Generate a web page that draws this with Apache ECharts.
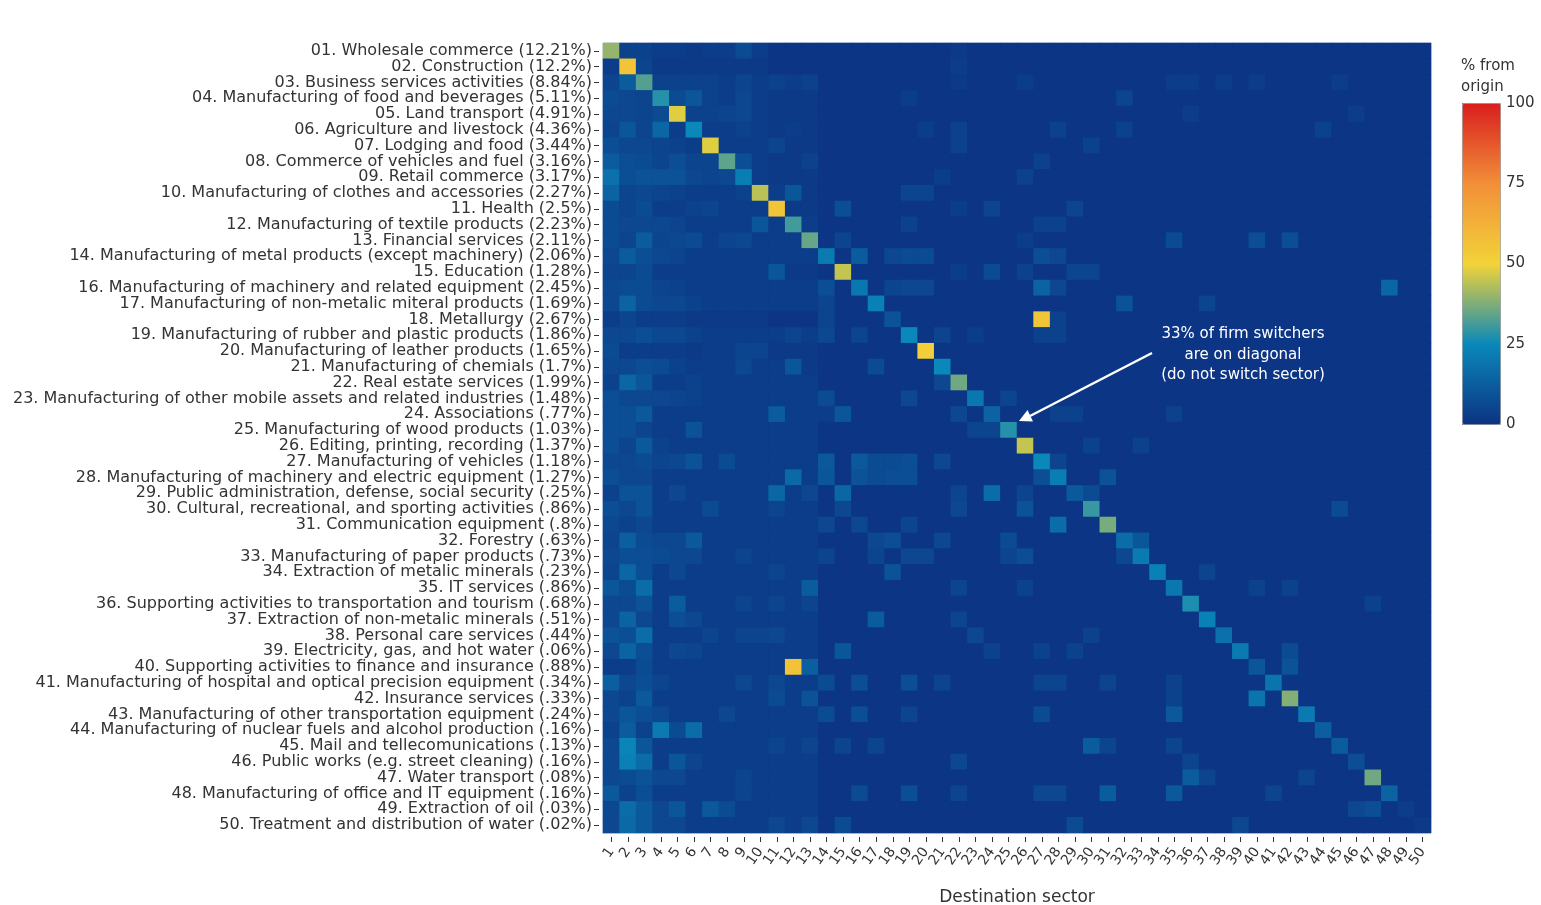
<!DOCTYPE html>
<html>
<head>
<meta charset="utf-8">
<title>Firm switchers by sector</title>
<script src="https://cdn.jsdelivr.net/npm/echarts@6/dist/echarts.min.js"></script>
<style>
  html, body { margin: 0; padding: 0; background: #fff; }
  #chart { width: 1541px; height: 905px; }
</style>
</head>
<body>
<div id="chart"></div>
<script>
// origin sectors (rows, top to bottom)
var originSectors = [
  '01. Wholesale commerce (12.21%)',
  '02. Construction (12.2%)',
  '03. Business services activities (8.84%)',
  '04. Manufacturing of food and beverages (5.11%)',
  '05. Land transport (4.91%)',
  '06. Agriculture and livestock (4.36%)',
  '07. Lodging and food (3.44%)',
  '08. Commerce of vehicles and fuel (3.16%)',
  '09. Retail commerce (3.17%)',
  '10. Manufacturing of clothes and accessories (2.27%)',
  '11. Health (2.5%)',
  '12. Manufacturing of textile products (2.23%)',
  '13. Financial services (2.11%)',
  '14. Manufacturing of metal products (except machinery) (2.06%)',
  '15. Education (1.28%)',
  '16. Manufacturing of machinery and related equipment (2.45%)',
  '17. Manufacturing of non-metalic miteral products (1.69%)',
  '18. Metallurgy (2.67%)',
  '19. Manufacturing of rubber and plastic products (1.86%)',
  '20. Manufacturing of leather products (1.65%)',
  '21. Manufacturing of chemials (1.7%)',
  '22. Real estate services (1.99%)',
  '23. Manufacturing of other mobile assets and related industries (1.48%)',
  '24. Associations (.77%)',
  '25. Manufacturing of wood products (1.03%)',
  '26. Editing, printing, recording (1.37%)',
  '27. Manufacturing of vehicles (1.18%)',
  '28. Manufacturing of machinery and electric equipment (1.27%)',
  '29. Public administration, defense, social security (.25%)',
  '30. Cultural, recreational, and sporting activities (.86%)',
  '31. Communication equipment (.8%)',
  '32. Forestry (.63%)',
  '33. Manufacturing of paper products (.73%)',
  '34. Extraction of metalic minerals (.23%)',
  '35. IT services (.86%)',
  '36. Supporting activities to transportation and tourism (.68%)',
  '37. Extraction of non-metalic minerals (.51%)',
  '38. Personal care services (.44%)',
  '39. Electricity, gas, and hot water (.06%)',
  '40. Supporting activities to finance and insurance (.88%)',
  '41. Manufacturing of hospital and optical precision equipment (.34%)',
  '42. Insurance services (.33%)',
  '43. Manufacturing of other transportation equipment (.24%)',
  '44. Manufacturing of nuclear fuels and alcohol production (.16%)',
  '45. Mail and tellecomunications (.13%)',
  '46. Public works (e.g. street cleaning) (.16%)',
  '47. Water transport (.08%)',
  '48. Manufacturing of office and IT equipment (.16%)',
  '49. Extraction of oil (.03%)',
  '50. Treatment and distribution of water (.02%)'
];

// destination sectors (columns)
var destSectors = ['1','2','3','4','5','6','7','8','9','10','11','12','13','14','15','16','17','18','19','20',
  '21','22','23','24','25','26','27','28','29','30','31','32','33','34','35','36','37','38','39','40',
  '41','42','43','44','45','46','47','48','49','50'];

var colorTicks = [0, 25, 50, 75, 100];

// % of switchers from each origin (row) going to each destination (column)
var shares = [
  [40,4,4,3,3,2,3,3,7,3, 1,1,1,1,1,1,1,1,1,1, 1,2,1,1,1,1,1,1,1,1, 1,1,1,1,1,1,1,1,1,1, 1,1,1,1,1,1,1,1,1,1],
  [3,55,5,2,2,2,2,2,2,2, 1,1,1,1,1,1,1,1,1,1, 1,3,1,1,1,1,1,1,1,1, 1,1,1,1,1,1,1,1,1,1, 1,1,1,1,1,1,1,1,1,1],
  [5,12,33,4,4,4,4,3,5,3, 4,3,4,1,1,1,1,1,1,1, 1,2,1,1,1,3,1,1,1,1, 1,1,1,1,3,3,1,3,1,3, 1,1,1,1,3,1,1,1,1,1],
  [7,6,5,28,7,10,4,3,6,3, 2,2,2,1,1,1,1,1,3,1, 1,1,1,1,1,1,1,1,1,1, 1,5,1,1,1,1,1,1,1,1, 1,1,1,1,1,1,1,1,1,1],
  [6,6,5,7,48,4,4,5,6,3, 2,2,2,1,1,1,1,1,1,1, 1,1,1,1,1,1,1,1,1,1, 1,1,1,1,1,3,1,1,1,1, 1,1,1,1,1,3,1,1,1,1],
  [5,10,5,15,3,25,3,3,4,3, 2,3,2,1,1,1,1,1,1,3, 1,4,1,1,1,1,1,4,1,1, 1,4,1,1,1,1,1,1,1,1, 1,1,1,4,1,1,1,1,1,1],
  [8,6,6,5,4,3,48,3,3,3, 5,2,2,1,1,1,1,1,1,1, 1,4,1,1,1,1,1,1,1,4, 1,1,1,1,1,1,1,1,1,1, 1,1,1,1,1,1,1,1,1,1],
  [12,8,7,5,8,5,5,34,8,3, 2,2,4,1,1,1,1,1,1,1, 1,1,1,1,1,1,4,1,1,1, 1,1,1,1,1,1,1,1,1,1, 1,1,1,1,1,1,1,1,1,1],
  [18,8,9,9,9,6,5,6,22,3, 2,2,2,1,1,1,1,1,1,1, 3,1,1,1,1,4,1,1,1,1, 1,1,1,1,1,1,1,1,1,1, 1,1,1,1,1,1,1,1,1,1],
  [14,5,6,5,4,3,3,3,4,44, 3,10,2,1,1,1,1,1,5,5, 1,1,1,1,1,1,1,1,1,1, 1,1,1,1,1,1,1,1,1,1, 1,1,1,1,1,1,1,1,1,1],
  [7,5,7,3,3,4,5,3,3,3, 55,2,2,1,8,1,1,1,1,1, 1,3,1,5,1,1,1,1,5,1, 1,1,1,1,1,1,1,1,1,1, 1,1,1,1,1,1,1,1,1,1],
  [7,6,6,6,5,3,3,3,3,10, 3,31,3,1,1,1,1,1,4,1, 1,1,1,1,1,1,4,4,1,1, 1,1,1,1,1,1,1,1,1,1, 1,1,1,1,1,1,1,1,1,1],
  [7,5,12,5,6,7,3,5,6,3, 3,3,35,1,5,1,1,1,1,1, 1,1,1,1,1,3,1,1,1,1, 1,1,1,1,7,1,1,1,1,8, 1,8,1,1,1,1,1,1,1,1],
  [6,12,8,6,5,3,3,3,3,3, 3,3,3,21,1,12,1,6,7,7, 1,1,1,1,1,1,8,6,1,1, 1,1,1,1,1,1,1,1,1,1, 1,1,1,1,1,1,1,1,1,1],
  [5,5,7,3,3,3,3,3,3,3, 10,2,2,1,45,1,1,1,1,1, 1,3,1,7,1,4,1,1,5,5, 1,1,1,1,1,1,1,1,1,1, 1,1,1,1,1,1,1,1,1,1],
  [6,7,7,5,4,3,3,3,3,3, 3,3,3,8,1,20,1,5,6,6, 1,1,1,1,1,1,14,6,1,1, 1,1,1,1,1,1,1,1,1,1, 1,1,1,1,1,1,1,15,1,1],
  [6,14,7,6,6,4,3,3,3,3, 3,3,3,5,1,1,23,1,1,1, 1,1,1,1,1,1,1,1,1,1, 1,9,1,1,1,1,5,1,1,1, 1,1,1,1,1,1,1,1,1,1],
  [3,5,3,3,3,2,2,2,2,2, 1,1,1,5,1,1,1,9,1,1, 1,1,1,1,1,1,55,4,1,1, 1,1,1,1,1,1,1,1,1,1, 1,1,1,1,1,1,1,1,1,1],
  [6,6,8,6,6,4,3,3,3,3, 3,5,3,6,1,5,1,1,25,1, 5,1,3,1,1,1,4,4,1,1, 1,1,1,1,1,1,1,1,1,1, 1,1,1,1,1,1,1,1,1,1],
  [7,3,3,3,3,2,3,3,5,5, 2,2,2,1,1,1,1,1,1,52, 1,1,1,1,1,1,1,1,1,1, 1,1,1,1,1,1,1,1,1,1, 1,1,1,1,1,1,1,1,1,1],
  [6,6,8,7,4,3,3,3,6,3, 3,10,2,1,1,1,7,1,1,1, 25,1,1,1,1,1,1,1,1,1, 1,1,1,1,1,1,1,1,1,1, 1,1,1,1,1,1,1,1,1,1],
  [4,15,10,3,3,4,3,3,3,3, 3,3,3,1,1,1,1,1,1,1, 6,36,1,1,1,1,1,1,1,1, 1,1,1,1,1,1,1,1,1,1, 1,1,1,1,1,1,1,1,1,1],
  [8,6,6,6,5,4,3,3,3,3, 3,3,3,7,1,1,1,1,6,1, 1,1,20,1,5,1,1,1,1,1, 1,1,1,1,1,1,1,1,1,1, 1,1,1,1,1,1,1,1,1,1],
  [8,8,11,3,3,3,3,3,3,3, 12,3,3,3,10,1,1,1,1,1, 1,6,1,14,1,1,1,4,4,1, 1,1,1,1,4,1,1,1,1,1, 1,1,1,1,1,1,1,1,1,1],
  [8,8,5,3,3,9,3,3,3,3, 3,3,3,1,1,1,1,1,1,1, 1,1,5,5,28,1,1,1,1,1, 1,1,1,1,1,1,1,1,1,1, 1,1,1,1,1,1,1,1,1,1],
  [8,5,11,4,3,3,3,3,3,3, 3,3,3,1,1,1,1,1,1,1, 1,1,1,1,1,45,1,1,1,4, 1,1,4,1,1,1,1,1,1,1, 1,1,1,1,1,1,1,1,1,1],
  [6,6,7,5,6,9,3,7,3,3, 3,3,3,11,1,11,7,7,8,1, 6,1,1,1,1,1,25,5,1,1, 1,1,1,1,1,1,1,1,1,1, 1,1,1,1,1,1,1,1,1,1],
  [8,6,6,3,3,3,3,3,3,3, 3,16,3,10,1,9,7,8,8,1, 1,1,1,1,1,1,8,22,1,1, 9,1,1,1,1,1,1,1,1,1, 1,1,1,1,1,1,1,1,1,1],
  [4,9,9,3,6,3,3,3,3,3, 15,3,6,1,15,1,1,1,1,1, 1,5,1,17,1,5,1,1,11,7, 1,1,1,1,1,1,1,1,1,1, 1,1,1,1,1,1,1,1,1,1],
  [8,6,9,3,3,3,7,3,3,3, 5,3,3,1,6,1,1,1,1,1, 1,6,1,1,1,9,1,1,1,30, 1,1,1,1,1,1,1,1,1,1, 1,1,1,1,7,1,1,1,1,1],
  [6,4,6,3,3,3,3,3,3,3, 3,3,3,6,1,6,1,1,5,1, 1,1,1,1,1,1,1,17,1,1, 37,1,1,1,1,1,1,1,1,1, 1,1,1,1,1,1,1,1,1,1],
  [5,13,7,6,6,11,3,3,3,3, 3,3,3,1,1,1,6,8,1,1, 6,1,1,1,7,1,1,1,1,1, 1,17,10,1,1,1,1,1,1,1, 1,1,1,1,1,1,1,1,1,1],
  [6,8,8,7,6,6,3,3,5,3, 3,3,3,5,1,1,5,1,6,6, 1,1,1,1,5,8,1,1,1,1, 1,6,21,1,1,1,1,1,1,1, 1,1,1,1,1,1,1,1,1,1],
  [5,15,8,3,6,3,3,3,3,3, 5,3,3,1,1,1,1,9,1,1, 1,1,1,1,1,1,1,1,1,1, 1,1,1,23,1,1,5,1,1,1, 1,1,1,1,1,1,1,1,1,1],
  [10,7,17,3,3,3,3,3,3,3, 3,3,12,1,1,1,1,1,1,1, 1,5,1,1,1,4,1,1,1,1, 1,1,1,1,20,1,1,1,1,4, 1,4,1,1,1,1,1,1,1,1],
  [6,6,9,3,12,3,3,3,5,3, 5,3,5,1,1,1,1,1,1,1, 1,1,1,1,1,1,1,1,1,1, 1,1,1,1,1,27,1,1,1,1, 1,1,1,1,1,1,4,1,1,1],
  [6,14,6,3,8,6,3,3,3,3, 3,3,3,1,1,1,12,1,1,1, 1,5,1,1,1,1,1,1,1,1, 1,1,1,1,1,1,23,1,1,1, 1,1,1,1,1,1,1,1,1,1],
  [9,8,17,3,3,3,5,3,5,5, 6,3,3,1,1,1,1,1,1,1, 1,1,6,1,1,1,1,1,1,4, 1,1,1,1,1,1,1,18,1,1, 1,1,1,1,1,1,1,1,1,1],
  [6,14,8,3,6,5,3,3,3,3, 3,3,3,1,10,1,1,1,1,1, 1,1,1,4,1,1,4,1,4,1, 1,1,1,1,1,1,1,1,21,1, 1,7,1,1,1,1,1,1,1,1],
  [3,3,7,3,3,3,3,3,3,3, 3,56,13,1,1,1,1,1,1,1, 1,1,1,1,1,1,1,1,1,1, 1,1,1,1,1,1,1,1,1,10, 1,9,1,1,1,1,1,1,1,1],
  [13,6,8,5,3,3,3,3,6,3, 6,3,3,7,1,8,1,1,8,1, 5,1,1,1,1,1,5,5,1,1, 5,1,1,1,4,1,1,1,1,1, 19,1,1,1,1,1,1,1,1,1],
  [6,4,11,3,3,3,3,3,3,3, 7,3,9,1,1,1,1,1,1,1, 1,1,1,1,1,1,1,1,1,1, 1,1,1,1,4,1,1,1,1,19, 1,38,1,1,1,1,1,1,1,1],
  [6,10,8,6,3,3,3,6,3,3, 3,3,3,7,1,8,1,1,5,1, 1,1,1,1,1,1,7,1,1,1, 1,1,1,1,11,1,1,1,1,1, 1,1,21,1,1,1,1,1,1,1],
  [4,12,4,21,7,17,3,3,3,3, 3,3,3,1,1,1,1,1,1,1, 1,1,1,1,1,1,1,1,1,1, 1,1,1,1,1,1,1,1,1,1, 1,1,1,13,1,1,1,1,1,1],
  [6,24,10,3,3,3,3,3,3,3, 5,3,5,1,5,1,5,1,1,1, 1,1,1,1,1,1,1,1,1,12, 5,1,1,1,5,1,1,1,1,1, 1,1,1,1,12,1,1,1,1,1],
  [6,23,17,3,10,5,3,3,3,3, 3,3,3,1,1,1,1,1,1,1, 1,6,1,1,1,1,1,1,1,1, 1,1,1,1,1,5,1,1,1,1, 1,1,1,1,1,8,1,1,1,1],
  [6,7,9,6,6,3,3,3,5,3, 3,3,3,1,1,1,1,1,1,1, 1,1,1,1,1,1,1,1,1,1, 1,1,1,1,1,12,5,1,1,1, 1,1,5,1,1,1,36,1,1,1],
  [11,4,8,3,3,3,3,3,5,3, 3,3,3,1,1,7,1,1,8,1, 1,5,1,1,1,1,6,6,1,1, 12,1,1,1,11,1,1,1,1,1, 5,1,1,1,1,1,1,14,1,1],
  [6,17,11,6,10,3,11,7,3,3, 3,3,3,1,1,1,1,1,1,1, 1,1,1,1,1,1,1,1,1,1, 1,1,1,1,1,1,1,1,1,1, 1,1,1,1,1,6,8,1,3,1],
  [6,16,11,6,6,3,3,3,3,3, 6,3,6,1,7,1,1,1,1,1, 1,1,1,1,1,1,1,1,7,1, 1,1,1,1,1,1,1,1,6,1, 1,1,1,1,1,1,1,1,1,2]
];

// Plotly "Portland" scale
var portland = ['#0c3383', '#0a88ba', '#f2d338', '#f28f38', '#d91e1e'];

var cells = [];
shares.forEach(function (row, r) {
  row.forEach(function (v, c) {
    cells.push([c, r, v]);
  });
});

var fontFamily = 'DejaVu Sans, Verdana, sans-serif';
var textColor = '#333';

var chart = echarts.init(document.getElementById('chart'));

var option = {
  animation: false,
  backgroundColor: '#fff',
  textStyle: { fontFamily: fontFamily },
  grid: [
    {
      left: 603, top: 43, width: 828, height: 790,
      outerBoundsMode: 'none', containLabel: false,
      show: true, backgroundColor: '#0c3585', borderColor: '#b8c4dc', borderWidth: 1
    },
    { left: 1462, top: 103, width: 38, height: 321, outerBoundsMode: 'none', containLabel: false }
  ],
  xAxis: [
    {
      type: 'category',
      gridIndex: 0,
      data: destSectors,
      offset: 4,
      splitLine: { show: false },
      splitArea: { show: false },
      axisLine: { show: false },
      axisTick: { show: true, alignWithLabel: true, length: 5, lineStyle: { color: textColor } },
      axisLabel: { interval: 0, rotate: 55, fontSize: 14, color: textColor, margin: 12, fontFamily: fontFamily },
      name: 'Destination sector',
      nameLocation: 'middle',
      nameGap: 52,
      nameTextStyle: { fontSize: 17, color: '#333', fontFamily: fontFamily }
    },
    { type: 'value', gridIndex: 1, show: false, min: 0, max: 1 }
  ],
  yAxis: [
    {
      type: 'category',
      gridIndex: 0,
      inverse: true,
      data: originSectors,
      offset: 4,
      splitLine: { show: false },
      splitArea: { show: false },
      axisLine: { show: false },
      axisTick: { show: true, alignWithLabel: true, length: 5, lineStyle: { color: textColor } },
      axisLabel: { interval: 0, fontSize: 16, color: textColor, margin: 7, fontFamily: fontFamily }
    },
    {
      type: 'value',
      gridIndex: 1,
      position: 'right',
      min: colorTicks[0],
      max: colorTicks[colorTicks.length - 1],
      interval: 25,
      splitLine: { show: false },
      axisLine: { show: false },
      axisTick: { show: true, length: 4, lineStyle: { color: textColor } },
      axisLabel: { fontSize: 15, color: textColor, margin: 6, fontFamily: fontFamily }
    }
  ],
  visualMap: {
    type: 'continuous',
    min: 0,
    max: 100,
    seriesIndex: 0,
    calculable: false,
    orient: 'vertical',
    left: 1462,
    top: 103,
    itemWidth: 38,
    itemHeight: 321,
    padding: 0,
    borderColor: '#999',
    borderWidth: 1,
    showLabel: false,
    inRange: { color: portland }
  },
  graphic: [
    {
      type: 'text',
      left: 1461,
      top: 56,
      style: { text: '% from\norigin', fontSize: 15, lineHeight: 21, fill: textColor, fontFamily: fontFamily }
    },
    {
      type: 'text',
      x: 1243,
      y: 355,
      style: {
        text: '33% of firm switchers\nare on diagonal\n(do not switch sector)',
        fontSize: 15, lineHeight: 20.5, fill: '#fff', align: 'center', verticalAlign: 'middle',
        fontFamily: fontFamily
      },
      z: 100
    },
    {
      type: 'line',
      shape: { x1: 1152, y1: 353, x2: 1030, y2: 416 },
      style: { stroke: '#fff', lineWidth: 2.5 },
      z: 100
    },
    {
      type: 'polygon',
      shape: { points: [[1019, 421], [1033, 421.5], [1027.5, 410]] },
      style: { fill: '#fff' },
      z: 100
    }
  ],
  series: [
    {
      type: 'heatmap',
      xAxisIndex: 0,
      yAxisIndex: 0,
      data: cells,
      emphasis: { disabled: true },
      itemStyle: { borderWidth: 0 }
    }
  ]
};

chart.setOption(option);
</script>
</body>
</html>
